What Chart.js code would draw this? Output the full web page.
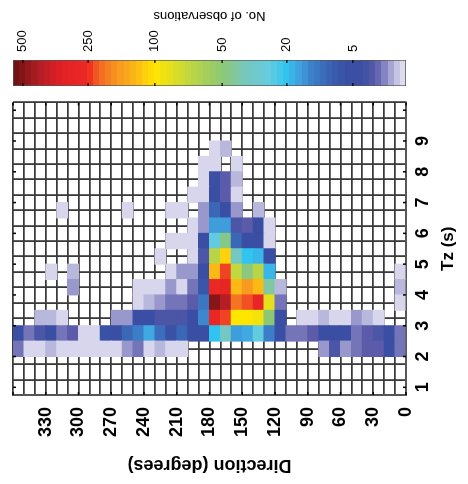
<!DOCTYPE html>
<html><head><meta charset="utf-8">
<script src="https://cdn.jsdelivr.net/npm/chart.js@4.4.1/dist/chart.umd.min.js"></script>
<style>
html,body{margin:0;padding:0;background:#fff;overflow:hidden;width:468px;height:484px;}
#wrap{position:absolute;left:0;top:0;width:484px;height:468px;transform-origin:0 0;transform:translate(0px,484px) rotate(-90deg);background:#fff;}
#main{position:absolute;left:0;top:0;}
#cb{position:absolute;left:380px;top:0;}
</style></head><body>
<div id="wrap">
<canvas id="main" width="484" height="468"></canvas>
<canvas id="cb" width="104" height="468"></canvas>
</div>
<script>
// ---------- DATA ----------
// Tz bins (s), lower edges, bin width 0.5 s
const tzBinStarts = [1.0,1.5,2.0,2.5,3.0,3.5,4.0,4.5,5.0,5.5,6.0,6.5,7.0,7.5,8.0,8.5,9.0,9.5];
// Direction bins (degrees), lower edges, bin width 10 deg (listed 350 -> 0)
const directionBinStarts = [350,340,330,320,310,300,290,280,270,260,250,240,230,220,210,200,190,180,170,160,150,140,130,120,110,100,90,80,70,60,50,40,30,20,10,0];
// Number of observations per direction bin (same order as directionBinStarts), one array per Tz bin
const obs_tz_1_0 = [0,0,0,0,0,0,0,0,0,0,0,0,0,0,0,0,0,0,0,0,0,0,0,0,0,0,0,0,0,0,0,0,0,0,0,0];
const obs_tz_1_5 = [0,0,0,0,0,0,0,0,0,0,0,0,0,0,0,0,0,0,0,0,0,0,0,0,0,0,0,0,0,0,0,0,0,0,0,0];
const obs_tz_2_0 = [4,1,1,2,1,1,1,1,1,1,3,4,1,2,1,1,0,0,0,0,0,0,0,0,0,0,0,0,3,4.4,3,4,4.2,4.2,6,4];
const obs_tz_2_5 = [6,4,4.4,6,4,4.2,1,1,7,6,11,14,18,12,7,11,6,6,20,38,17,18,28,14,6,4,4,4.2,6,6,6,4,4.2,4.4,6,4];
const obs_tz_3_0 = [0,0,2,2,1,0,0,0,0,3,3,6,6,4.4,4.4,4.4,6,15,280,240,100,100,95,50,6,0,1,1,2,1,1,3,2,1,0,0];
const obs_tz_3_5 = [0,0,0,0,0,0,0,0,0,0,0,1,2,3,4,4,4.2,13,495,432,215,235,300,89,4,0,0,0,0,0,0,0,0,0,0,1];
const obs_tz_4_0 = [0,0,0,0,0,3,0,0,0,0,0,1,1,1,3,1,4,8,270,300,145,180,145,43,2,0,0,0,0,0,0,0,0,0,0,2];
const obs_tz_4_5 = [0,0,0,1,0,2,0,0,0,0,0,0,0,0,1,3,3,6,145,240,75,48,71,19,0,0,0,0,0,0,0,0,0,0,0,1];
const obs_tz_5_0 = [0,0,0,0,0,0,0,0,0,0,0,0,0,1,0,0,1,4.4,71,118,38,20,19,6,0,0,0,0,0,0,0,0,0,0,0,0];
const obs_tz_5_5 = [0,0,0,0,0,0,0,0,0,0,0,0,0,0,1,1,1,6,28,47,11,6,6,1,0,0,0,0,0,0,0,0,0,0,0,0];
const obs_tz_6_0 = [0,0,0,0,0,0,0,0,0,0,0,0,0,0,0,0,1,3,17,17,4.4,4.2,6,1,0,0,0,0,0,0,0,0,0,0,0,0];
const obs_tz_6_5 = [0,0,0,0,1,0,0,0,0,0,1,0,0,0,1,1,0,3,11,6,3,0,2,0,0,0,0,0,0,0,0,0,0,0,0,0];
const obs_tz_7_0 = [0,0,0,0,0,0,0,0,0,0,0,0,0,0,0,0,1,1,6,4.2,1,0,0,0,0,0,0,0,0,0,0,0,0,0,0,0];
const obs_tz_7_5 = [0,0,0,0,0,0,0,0,0,0,0,0,0,0,0,0,0,1,5,4.2,2,0,0,0,0,0,0,0,0,0,0,0,0,0,0,0];
const obs_tz_8_0 = [0,0,0,0,0,0,0,0,0,0,0,0,0,0,0,0,0,1,1,0,1,0,0,0,0,0,0,0,0,0,0,0,0,0,0,0];
const obs_tz_8_5 = [0,0,0,0,0,0,0,0,0,0,0,0,0,0,0,0,0,0,1,2,0,0,0,0,0,0,0,0,0,0,0,0,0,0,0,0];
const obs_tz_9_0 = [0,0,0,0,0,0,0,0,0,0,0,0,0,0,0,0,0,0,0,0,0,0,0,0,0,0,0,0,0,0,0,0,0,0,0,0];
const obs_tz_9_5 = [0,0,0,0,0,0,0,0,0,0,0,0,0,0,0,0,0,0,0,0,0,0,0,0,0,0,0,0,0,0,0,0,0,0,0,0];
const obsByTz = [obs_tz_1_0,obs_tz_1_5,obs_tz_2_0,obs_tz_2_5,obs_tz_3_0,obs_tz_3_5,obs_tz_4_0,obs_tz_4_5,obs_tz_5_0,obs_tz_5_5,obs_tz_6_0,obs_tz_6_5,obs_tz_7_0,obs_tz_7_5,obs_tz_8_0,obs_tz_8_5,obs_tz_9_0,obs_tz_9_5];

// Tick labels
const tzTickLabels = [1,2,3,4,5,6,7,8,9];
const directionTickLabels = [0,30,60,90,120,150,180,210,240,270,300,330];
const colorbarTickValues = [5,20,50,100,250,500];

// ---------- COLOUR SCALE ----------
const knotCounts = [0,1,2,3,4,5,20,50,100,250,500,560];
const knotPos    = [0,.014,.030,.046,.062,.135,.303,.468,.639,.809,.975,1];
const cmapPos = [0,.014,.030,.046,.062,.077,.092,.110,.150,.190,.240,.280,.303,.350,.405,.468,.555,.639,.680,.730,.780,.809,.880,.930,1];
const cmapHex = ['#e4e2f1','#d8d6ec','#b8b7dc','#9898cc','#7474b9','#5a5aaa','#4a56a6','#3c4fa2','#3a4fa3','#3a5fb0','#3c80ca','#40a8e2','#30c4f0','#66ccdf','#76c8c0','#8cc874','#c2d83e','#ffe600','#fdc012','#f89a20','#f26a22','#ee2a24','#e02026','#b41e24','#6a1010'];

function hexRgb(h){return [parseInt(h.slice(1,3),16),parseInt(h.slice(3,5),16),parseInt(h.slice(5,7),16)];}
const cmapRgb = cmapHex.map(hexRgb);
function interp(xs, ys, x){
  if (x <= xs[0]) return ys[0];
  for (let i=1;i<xs.length;i++){ if (x <= xs[i]) { const t=(x-xs[i-1])/(xs[i]-xs[i-1]); return ys[i-1]+t*(ys[i]-ys[i-1]); } }
  return ys[ys.length-1];
}
function countToPos(c){ return interp(knotCounts, knotPos, c); }
function posToColor(p){
  p = Math.max(0, Math.min(1, p));
  let i=1; while (i<cmapPos.length-1 && p>cmapPos[i]) i++;
  const t=(p-cmapPos[i-1])/(cmapPos[i]-cmapPos[i-1]);
  const a=cmapRgb[i-1], b=cmapRgb[i];
  return 'rgb('+[0,1,2].map(k=>Math.round(a[k]+t*(b[k]-a[k]))).join(',')+')';
}
function countToColor(c){ return posToColor(countToPos(c)); }

// ---------- MAIN HEATMAP ----------
const FONT = '"Liberation Sans", Arial, Helvetica, sans-serif';
const datasets = tzBinStarts.map((tz, ti) => {
  const pts = [], cols = [];
  obsByTz[ti].forEach((n, di) => {
    if (n > 0) {
      pts.push({x: tz + 0.25, y: [directionBinStarts[di], directionBinStarts[di] + 10]});
      cols.push(countToColor(n));
    }
  });
  return {label: 'Tz ' + tz, data: pts, backgroundColor: cols, borderWidth: 0, grouped: false,
          barPercentage: 1, categoryPercentage: 1, inflateAmount: 0.5};
});

// small inward tick marks like the original figure
const innerTicks = {
  id: 'innerTicks',
  afterDraw(chart) {
    const {ctx, chartArea: a, scales: {x, y}} = chart;
    ctx.save();
    ctx.strokeStyle = '#000';
    ctx.lineWidth = 1.5;
    ctx.beginPath();
    tzTickLabels.concat([10]).forEach(v => {
      const px = x.getPixelForValue(v);
      ctx.moveTo(px, a.bottom); ctx.lineTo(px, a.bottom - 3);
      ctx.moveTo(px, a.top); ctx.lineTo(px, a.top + 3);
    });
    directionTickLabels.concat([360]).forEach(v => {
      const py = y.getPixelForValue(v);
      ctx.moveTo(a.left, py); ctx.lineTo(a.left + 3, py);
      ctx.moveTo(a.right, py); ctx.lineTo(a.right - 3, py);
    });
    ctx.stroke();
    ctx.restore();
  }
};

const gridStyle = {color: '#3a3a3a', lineWidth: 1.8, drawTicks: false};
new Chart(document.getElementById('main'), {
  type: 'bar',
  data: {datasets},
  options: {
    responsive: false, animation: false, devicePixelRatio: 1, events: [],
    layout: {padding: {left: 0, right: 102.5, top: 13, bottom: 0}},
    plugins: {legend: {display: false}, tooltip: {enabled: false}},
    scales: {
      x: {
        type: 'linear', position: 'bottom', min: 1, max: 10, z: 1,
        grid: gridStyle,
        border: {display: true, color: '#555', width: 1.8},
        ticks: {stepSize: 0.5, autoSkip: false, maxRotation: 0, padding: 6, color: '#000',
                font: {family: FONT, size: 18, weight: 'bold'},
                callback: v => tzTickLabels.includes(v) ? String(v) : ''},
        title: {display: true, text: 'Tz (s)', color: '#000', padding: {top: 0, bottom: 9},
                font: {family: FONT, size: 17, weight: 'bold'}},
        afterFit: s => { s.height = 62; s.paddingLeft = 0; s.paddingRight = 0; }
      },
      y: {
        type: 'linear', position: 'left', min: 0, max: 360, z: 1,
        grid: gridStyle,
        border: {display: true, color: '#555', width: 1.8},
        ticks: {stepSize: 10, autoSkip: false, padding: 12, color: '#000',
                font: {family: FONT, size: 18, weight: 'bold'},
                callback: v => directionTickLabels.includes(v) ? String(v) : ''},
        title: {display: true, text: 'Direction (degrees)', color: '#000', padding: {top: 8, bottom: 0},
                font: {family: FONT, size: 18, weight: 'bold'}},
        afterFit: s => { s.width = 89; s.paddingTop = 0; s.paddingBottom = 0; }
      }
    }
  },
  plugins: [innerTicks]
});

// ---------- COLOUR BAR ----------
const colorbarTickPos = colorbarTickValues.map(countToPos);
const cbExtras = {
  id: 'cbExtras',
  afterDraw(chart) {
    const {ctx, chartArea: a, scales: {y}} = chart;
    ctx.save();
    ctx.strokeStyle = '#000';
    ctx.lineWidth = 1.2;
    ctx.beginPath();
    colorbarTickPos.forEach(p => {
      const py = y.getPixelForValue(p);
      ctx.moveTo(a.left, py); ctx.lineTo(a.left + 3, py);
      ctx.moveTo(a.right, py); ctx.lineTo(a.right - 3, py);
    });
    ctx.stroke();
    ctx.font = '13px ' + FONT;
    ctx.fillStyle = '#000';
    ctx.textAlign = 'center';
    ctx.textBaseline = 'middle';
    ctx.translate(88, (a.top + a.bottom) / 2);
    ctx.rotate(-Math.PI / 2);
    ctx.fillText('No. of observations', 0, 0);
    ctx.restore();
  }
};
function cbFill(context) {
  const chart = context.chart;
  const a = chart.chartArea;
  if (!a || !isFinite(a.top) || !isFinite(a.bottom)) return '#888';
  const g = chart.ctx.createLinearGradient(0, a.bottom, 0, a.top);
  const N = 64;
  for (let i = 0; i < N; i++) {
    const c = posToColor((i + 0.5) / N);
    g.addColorStop(i / N, c);
    g.addColorStop(Math.min(1, (i + 1) / N - 0.0001), c);
  }
  return g;
}
new Chart(document.getElementById('cb'), {
  type: 'bar',
  data: {labels: ['cb'], datasets: [{data: [[0, 1]], backgroundColor: cbFill, borderColor: '#555',
          borderWidth: 1, borderSkipped: false, barPercentage: 1, categoryPercentage: 1}]},
  options: {
    responsive: false, animation: false, devicePixelRatio: 1, events: [],
    layout: {padding: {left: 18, right: 0, top: 13, bottom: 62}},
    plugins: {legend: {display: false}, tooltip: {enabled: false}},
    scales: {
      x: {display: false},
      y: {
        position: 'right', min: 0, max: 1,
        afterBuildTicks: s => { s.ticks = colorbarTickPos.map(p => ({value: p})); },
        grid: {display: false, drawTicks: false},
        border: {display: false},
        ticks: {padding: 8, color: '#000', font: {family: FONT, size: 13},
                callback: v => { const i = colorbarTickPos.findIndex(p => Math.abs(p - v) < 1e-6); return i >= 0 ? String(colorbarTickValues[i]) : ''; }},
        afterFit: s => { s.width = 60; s.paddingTop = 0; s.paddingBottom = 0; }
      }
    }
  },
  plugins: [cbExtras]
});
</script>
</body></html>
